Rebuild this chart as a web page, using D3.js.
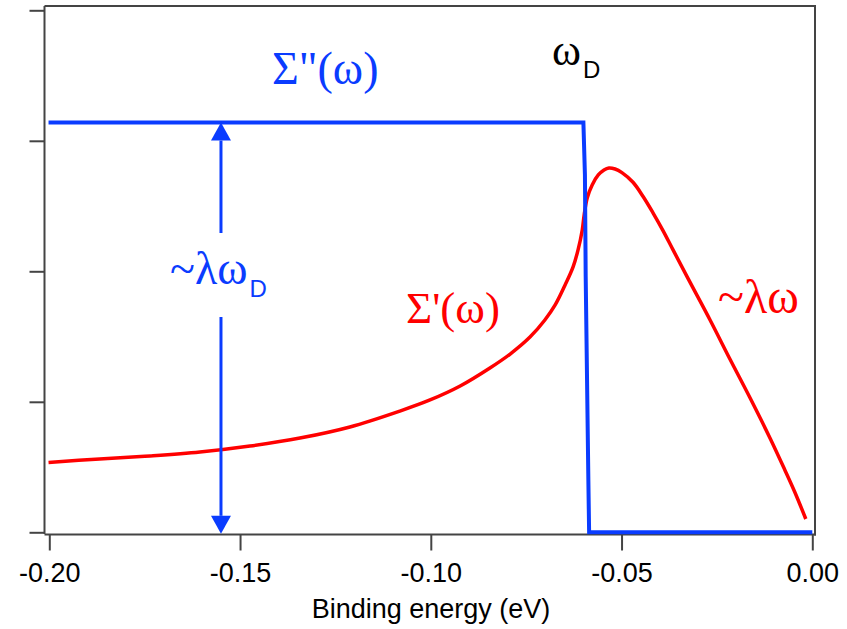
<!DOCTYPE html>
<html>
<head>
<meta charset="utf-8">
<script src="https://cdn.jsdelivr.net/npm/d3@7"></script>
<style>
  html, body { margin: 0; padding: 0; background: #fff; }
  svg { display: block; }
  .greek { font-family: "Liberation Serif", "Times New Roman", serif; }
  .sans { font-family: "Liberation Sans", Arial, sans-serif; }
</style>
</head>
<body>
<svg id="chart" width="847" height="629"></svg>
<script>
// Self-energy sketch: imaginary part Σ''(ω) as a step cut off at ω_D,
// real part Σ'(ω) peaking just above the cutoff.

// x tick values (binding energy, eV) and their labels
const xTicks = [-0.20, -0.15, -0.10, -0.05, 0.00];
const xTickLabels = ["-0.20", "-0.15", "-0.10", "-0.05", "0.00"];
// unlabelled y ticks (arbitrary units)
const yTicks = [0, 1, 2, 3, 4];

// Σ''(ω): flat level, steep drop near -0.06 eV, zero up to E_F
const imagE = [-0.2002, -0.0600, -0.0596, -0.0594, -0.0587, -0.0585, 0.0];
const imagS = [3.14, 3.14, 2.74, 1.96, 0.40, 0.0, 0.0];

// Σ'(ω)
const realE = [-0.2002, -0.1868, -0.1736, -0.1605, -0.1474, -0.1343, -0.1212, -0.1081,
  -0.1002, -0.0923, -0.0845, -0.0792, -0.0740, -0.0701, -0.0674, -0.0648, -0.0627,
  -0.0614, -0.0603, -0.0598, -0.0590, -0.0577, -0.0561, -0.0546, -0.0533, -0.0517,
  -0.0499, -0.0470, -0.0444, -0.0418, -0.0391, -0.0365, -0.0321, -0.0268, -0.0216,
  -0.0163, -0.0111, -0.0072, -0.0046, -0.0017];
const realS = [0.535, 0.562, 0.585, 0.615, 0.661, 0.722, 0.807, 0.929,
  1.014, 1.121, 1.259, 1.366, 1.496, 1.627, 1.742, 1.895, 2.034,
  2.164, 2.317, 2.432, 2.562, 2.662, 2.738, 2.777, 2.792, 2.784,
  2.756, 2.682, 2.575, 2.450, 2.310, 2.164, 1.919, 1.627, 1.328,
  1.029, 0.723, 0.478, 0.309, 0.102];

// double-headed arrow marking the Σ'' level ~λω_D
const arrowE = -0.155;
const arrowTop = 3.14;
const arrowBottom = 0;

const BLUE = "#0a3cff";
const RED = "#ff0000";
const AXIS = "#444";

const svg = d3.select("#chart");

const x = d3.scaleLinear().domain([-0.2, 0]).range([49.3, 812.3]);
const y = d3.scaleLinear().domain([0, 4]).range([532.3, 10.3]);

const frame = { left: 44.5, right: 815, top: 6, bottom: 534.5 };

// frame: top and right edges
svg.append("path")
  .attr("d", `M${frame.left},${frame.top}H${frame.right}V${frame.bottom + 1}`)
  .attr("fill", "none").attr("stroke", AXIS).attr("stroke-width", 2);

// left axis (ticks only, no labels)
const yAxis = d3.axisLeft(y).tickValues(yTicks).tickSize(15).tickFormat("");
const gy = svg.append("g").attr("transform", `translate(${frame.left},0)`).call(yAxis);
gy.select(".domain").attr("d", `M0,${frame.top}V${frame.bottom - 1.5}H1`)
  .attr("stroke", AXIS).attr("stroke-width", 2);
gy.selectAll(".tick line").attr("stroke", AXIS).attr("stroke-width", 2);

// bottom axis
const xAxis = d3.axisBottom(x).tickValues(xTicks).tickSize(16)
  .tickFormat((d, i) => xTickLabels[i]);
const gx = svg.append("g").attr("transform", `translate(0,${frame.bottom})`).call(xAxis);
gx.select(".domain").attr("d", `M${frame.left},0H${frame.right + 1}`)
  .attr("stroke", AXIS).attr("stroke-width", 2);
gx.selectAll(".tick line").attr("stroke", AXIS).attr("stroke-width", 2);
gx.selectAll(".tick text")
  .attr("class", "sans")
  .attr("y", 47).attr("dy", 0)
  .attr("fill", "#000")
  .style("font-size", "27px");

svg.append("text").attr("class", "sans")
  .attr("x", 431).attr("y", 618)
  .attr("text-anchor", "middle")
  .style("font-size", "27px")
  .text("Binding energy (eV)");

// curves
svg.append("path")
  .datum(d3.zip(realE, realS))
  .attr("fill", "none").attr("stroke", RED).attr("stroke-width", 3.5)
  .attr("stroke-linejoin", "round")
  .attr("d", d3.line().x(d => x(d[0])).y(d => y(d[1])).curve(d3.curveCatmullRom.alpha(0.5)));

svg.append("path")
  .datum(d3.zip(imagE, imagS))
  .attr("fill", "none").attr("stroke", BLUE).attr("stroke-width", 4)
  .attr("stroke-linejoin", "miter")
  .attr("d", d3.line().x(d => x(d[0])).y(d => y(d[1])));

// arrow
const ax = x(arrowE);
const yT = y(arrowTop), yB = y(arrowBottom) + 1.5;
const head = 18, halfW = 10;
const gapTop = 233, gapBottom = 317;
const ga = svg.append("g");
ga.append("line").attr("x1", ax).attr("x2", ax).attr("y1", yT + head).attr("y2", gapTop)
  .attr("stroke", BLUE).attr("stroke-width", 3);
ga.append("line").attr("x1", ax).attr("x2", ax).attr("y1", gapBottom).attr("y2", yB - head)
  .attr("stroke", BLUE).attr("stroke-width", 3);
ga.append("path").attr("fill", BLUE)
  .attr("d", `M${ax},${yT}L${ax - halfW},${yT + head}L${ax + halfW},${yT + head}Z`);
ga.append("path").attr("fill", BLUE)
  .attr("d", `M${ax},${yB}L${ax - halfW},${yB - head}L${ax + halfW},${yB - head}Z`);

// annotations
function label(xp, yp, main, sub, color, size) {
  const t = svg.append("text").attr("x", xp).attr("y", yp).attr("fill", color);
  t.append("tspan").attr("class", "greek").style("font-size", size + "px").text(main);
  if (sub) {
    t.append("tspan").attr("class", "sans").style("font-size", "24px")
      .attr("dx", 2).attr("dy", 13).text(sub);
  }
  return t;
}
label(272, 84, "Σ\"(ω)", null, BLUE, 46);
label(552, 65, "ω", "D", "#000", 44);
label(406, 323, "Σ'(ω)", null, RED, 45);
label(718, 313, "~λω", null, RED, 48);
label(170, 284, "~λω", "D", BLUE, 46);
</script>
</body>
</html>
